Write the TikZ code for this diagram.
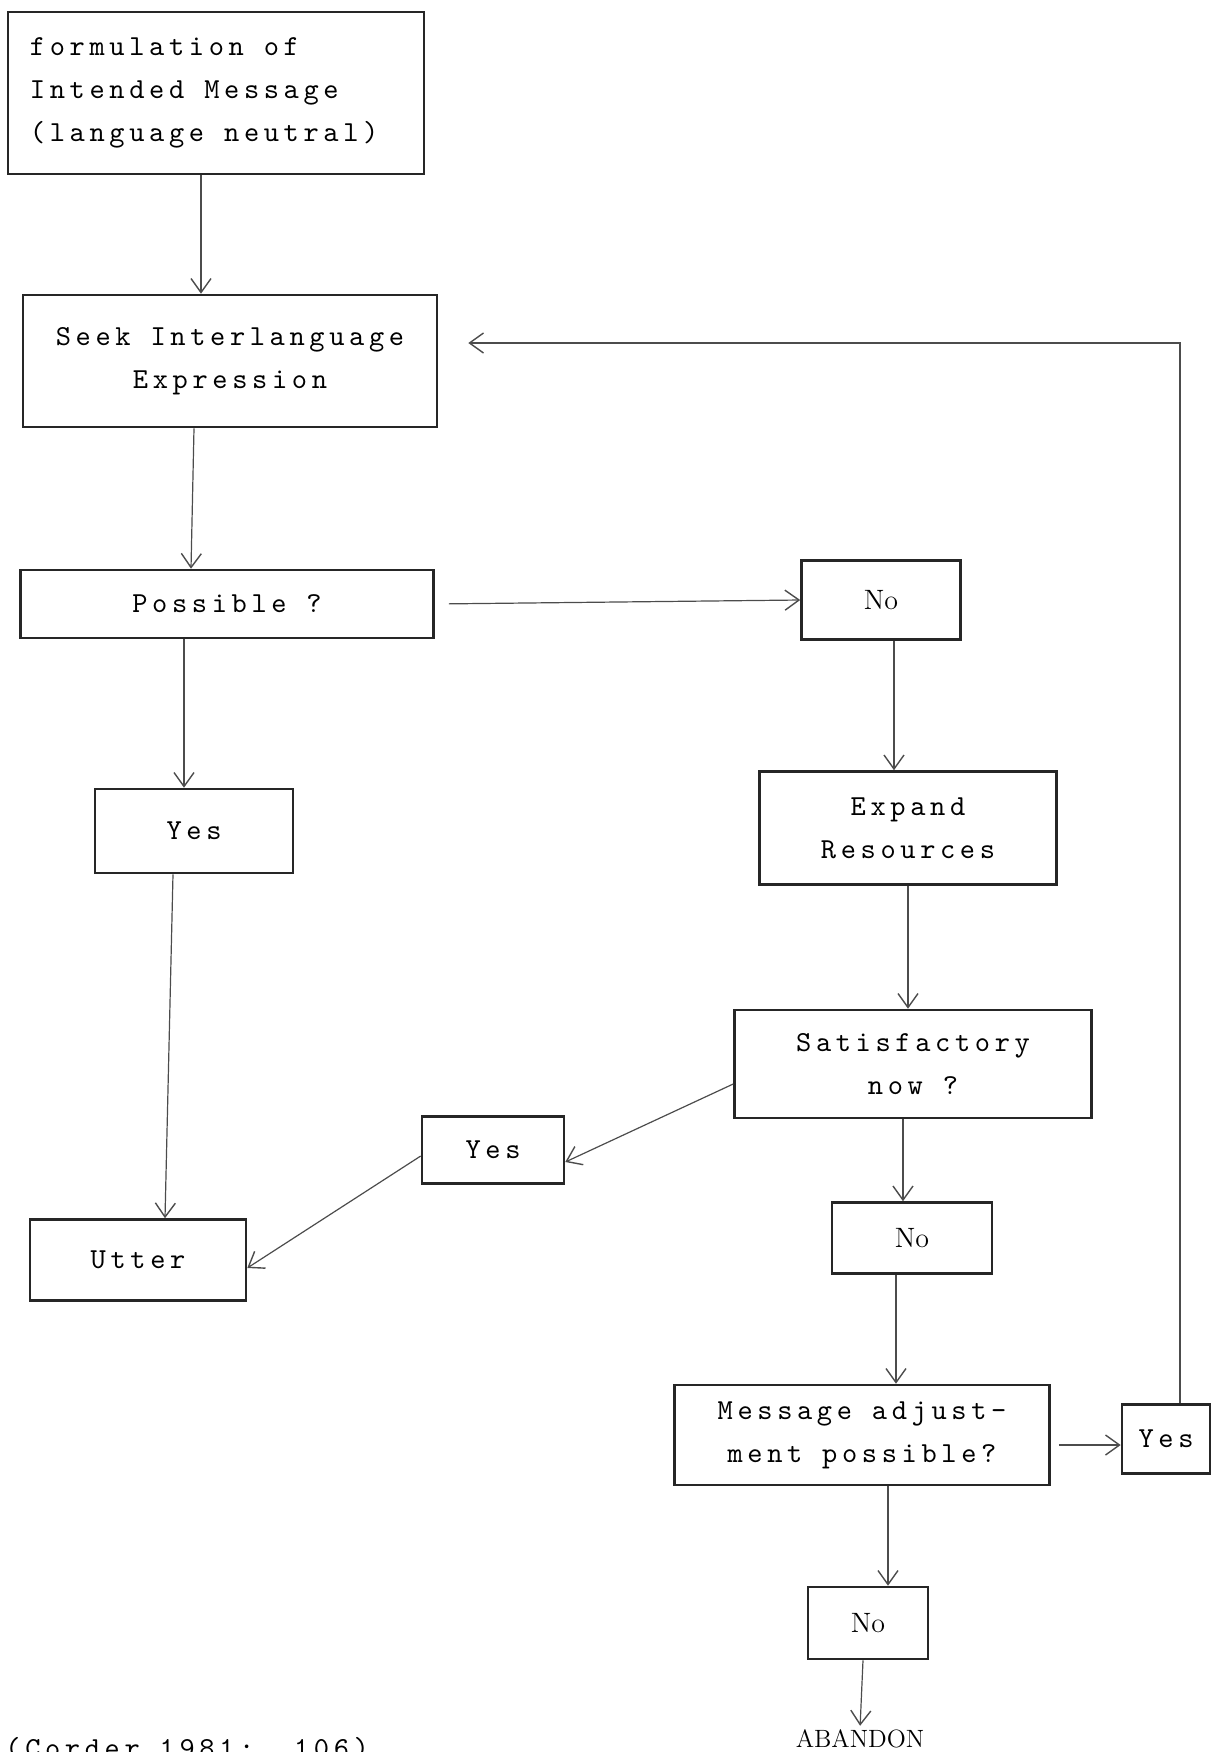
\documentclass[tikz,border=0pt]{standalone}
\usepackage{fontspec}
\usetikzlibrary{arrows.meta}

\newfontfamily\typewriter{lmmono10-regular}[Extension=.otf, LetterSpace=16]
\newcommand{\typefont}{\fontsize{14.5}{21.5}\typewriter}
\newcommand{\answerfont}{\fontsize{14}{16}\rmfamily}
\newcommand{\widespace}{\spaceskip=0.69em\relax}

\tikzset{
    stepbox/.style={draw=black!85, line width=1.3pt, rectangle, inner sep=0pt,
        font=\typefont, align=center},
    nobox/.style={stepbox, font=\answerfont},
    link/.style={draw=black!70, line width=0.6pt,
        -{Straight Barb[length=7pt,width=10pt,line width=0.7pt]}}
}

\begin{document}
\begin{tikzpicture}[x=0.5pt, y=-0.5pt]
    \useasboundingbox (0,0) rectangle (1222,1752);

    % Left column
    \node[stepbox, minimum width=208pt, minimum height=81pt, text width=186pt, align=left]
        (intent) at (216,93) {\widespace formulation of\\Intended Message\\(language neutral)};
    \node[stepbox, minimum width=207pt, minimum height=66pt] (seek) at (230,361)
        {Seek Interlanguage\\Expression};
    \node[stepbox, minimum width=206.5pt, minimum height=34pt] (possible) at (227,604) {Possible ?};
    \node[stepbox, minimum width=99pt, minimum height=42pt] (yes1) at (194,831) {Yes};
    \node[stepbox, minimum width=108pt, minimum height=40.5pt] (utter) at (138,1260) {Utter};

    % Right column
    \node[nobox, minimum width=79.5pt, minimum height=39.5pt] (no1) at (881,600) {No};
    \node[stepbox, minimum width=148.5pt, minimum height=56.5pt] (expand) at (908,828)
        {Expand\\Resources};
    \node[stepbox, minimum width=178.5pt, minimum height=54pt] (satisf) at (913,1064)
        {Satisfactory\\now ?};
    \node[stepbox, minimum width=71pt, minimum height=33.5pt] (yes2) at (493,1150) {Yes};
    \node[nobox, minimum width=80pt, minimum height=35.5pt] (no2) at (912,1238) {No};
    \node[stepbox, minimum width=187.5pt, minimum height=50pt] (message) at (862,1435)
        {Message adjust-\\ment possible?};
    \node[stepbox, minimum width=44pt, minimum height=34.5pt] (yes3) at (1166,1439) {Yes};
    \node[nobox, minimum width=60pt, minimum height=36pt] (no3) at (868,1623) {No};
    \node[font=\fontsize{12.5}{14}\rmfamily, anchor=base, inner sep=0pt] (abandon) at (860,1747) {ABANDON};

    % Source
    \node[font=\typefont, anchor=base west, inner sep=0pt] (source) at (5,1757) {(Corder 1981:\ \ 106)};

    % Connectors
    \draw[link] ([xshift=-7.5pt]intent.south) -- ([xshift=-14.5pt]seek.north);
    \draw[link] ([xshift=-18pt]seek.south) -- ([xshift=-18pt]possible.north);
    \draw[link] ([xshift=-21.5pt]possible.south) -- ([xshift=-5pt]yes1.north);
    \draw[link] ([xshift=-10.5pt]yes1.south) -- ([xshift=13.5pt]utter.north);
    \draw[link, shorten <=7pt] (possible.east) -- (no1.west);
    \draw[link] ([xshift=6.5pt]no1.south) -- ([xshift=-7pt]expand.north);
    \draw[link] (expand.south) -- ([xshift=-2.5pt]satisf.north);
    \draw[link] ([yshift=-10pt]satisf.west) -- ([yshift=-6pt]yes2.east);
    \draw[link] ([yshift=-3pt]yes2.west) -- ([yshift=-4pt]utter.east);
    \draw[link] ([xshift=-5pt]satisf.south) -- ([xshift=-4.5pt]no2.north);
    \draw[link] ([xshift=-8pt]no2.south) -- ([xshift=17pt]message.north);
    \draw[link, shorten <=4pt] ([yshift=-5pt]message.east) -- ([yshift=-3pt]yes3.west);
    \draw[link] ([xshift=13pt]message.south) -- ([xshift=10pt]no3.north);
    \draw[link, shorten >=1.5pt] ([xshift=-2.5pt]no3.south) -- (abandon.north);
    \draw[link, shorten >=15pt] ([xshift=7pt]yes3.north) |- ([yshift=9pt]seek.east);
\end{tikzpicture}
\end{document}
